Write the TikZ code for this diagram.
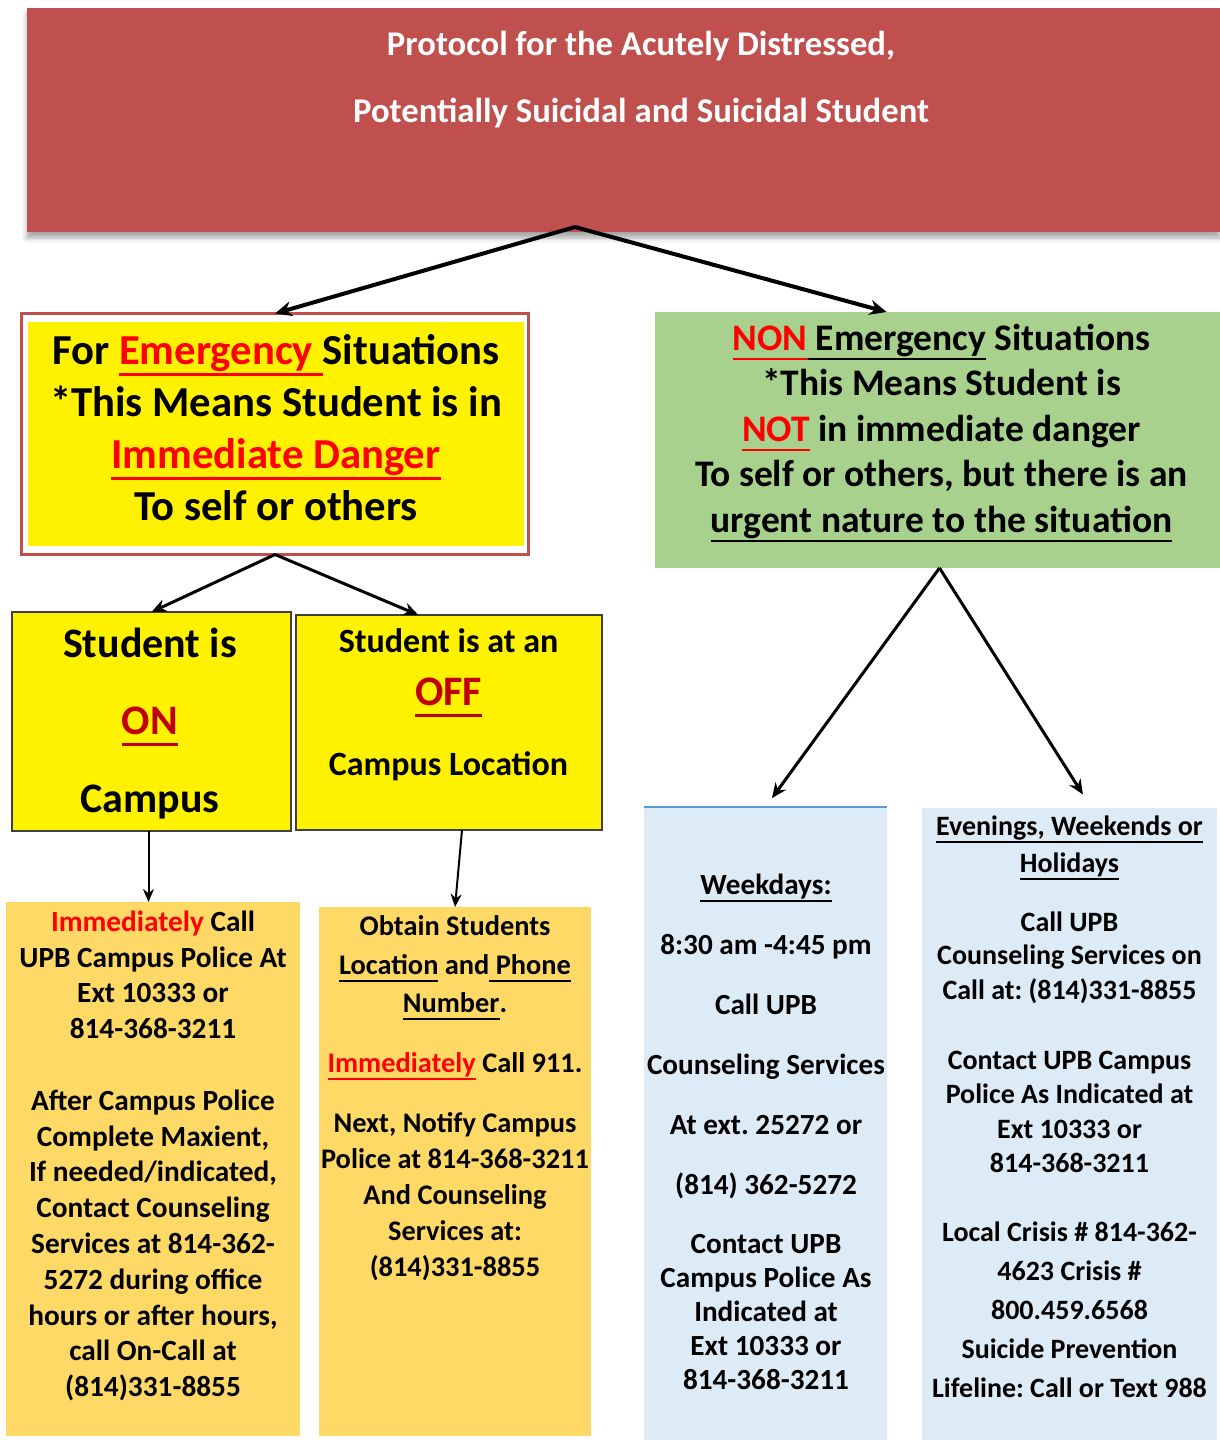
\documentclass[tikz,border=0pt]{standalone}
\usepackage{fontspec}
\setmainfont{Carlito}
\usepackage{xcolor}
\usetikzlibrary{arrows.meta,calc,shadows.blur}
\definecolor{protored}{HTML}{C0504D}
\definecolor{alertred}{HTML}{FF0000}
\definecolor{darkred}{HTML}{C00000}
\definecolor{nongreen}{HTML}{A9D18E}
\definecolor{callorange}{HTML}{FFD966}
\definecolor{dayblue}{HTML}{DDEBF7}
\definecolor{edgeblue}{HTML}{5B9BD5}
\newcommand{\fsz}[2]{\fontsize{#1}{#2}\selectfont\bfseries\frenchspacing}
\newcommand{\undl}[1]{\leavevmode\setbox0\hbox{#1}\rlap{\vrule width\wd0 height -0.2em depth 0.27em}\box0\relax}

\begin{document}
\begin{tikzpicture}[x=1pt,y=-1pt,
  box/.style={anchor=north west,inner sep=0pt,outer sep=0pt},
  txt/.style={anchor=north,inner sep=0pt,align=center},
  yellowbox/.style={box,fill=yellow,draw=black!75,line width=1.2pt},
  bigarrow/.style={line width=4pt,-{Stealth[length=17pt,width=15pt]}},
  midarrow/.style={line width=3pt,-{Stealth[length=15pt,width=13pt]}},
  thinarrow/.style={line width=2pt,-{Stealth[length=13pt,width=11pt]}}]
\useasboundingbox (0,0) rectangle (1220,1440);

\node[box,fill=protored,minimum width=1193pt,minimum height=224pt,
  blur shadow={shadow xshift=0pt,shadow yshift=-6pt,shadow blur radius=5pt,shadow opacity=35}] (title) at (27,8) {};
\node[box,fill=white,draw=protored,line width=3pt,minimum width=507pt,minimum height=241pt] (emerg) at (21.5,313.5) {};
\fill[yellow] ([shift={(6.5pt,-8.5pt)}]emerg.north west) rectangle ([shift={(-5pt,8.5pt)}]emerg.south east);
\node[box,fill=nongreen,minimum width=565pt,minimum height=256pt] (nonemerg) at (655,312) {};
\node[yellowbox,minimum width=279pt,minimum height=219pt] (onbox) at (12,612) {};
\node[yellowbox,minimum width=306pt,minimum height=215pt] (offbox) at (296,615) {};
\node[box,fill=callorange,minimum width=294pt,minimum height=534pt] (callbox) at (6,902) {};
\node[box,fill=callorange,minimum width=272pt,minimum height=529pt] (obtainbox) at (319,907) {};
\node[box,fill=dayblue,minimum width=243pt,minimum height=633pt] (weekbox) at (644,807) {};
\draw[edgeblue,line width=1.5pt] (weekbox.north west) -- (weekbox.north east);
\node[box,fill=dayblue,minimum width=295pt,minimum height=632pt] (evebox) at (922,808) {};

\node[txt,text=white,font=\fsz{34.7}{67}] (titletext) at (641,8.2) {\strut Protocol for the Acutely Distressed,\\Potentially Suicidal and Suicidal Student};
\node[txt,font=\fsz{42.7}{52}] (emergtext) at (276,328) {\strut For \textcolor{alertred}{\undl{Emergency\ }}Situations\\{}*This Means Student is in\\\textcolor{alertred}{\undl{Immediate Danger}}\\To self or others};
\node[txt,font=\fsz{37.5}{45.5}] (nonemergtext) at (941.5,318) {\strut\textcolor{alertred}{\undl{NON}}\undl{ Emergency} Situations\\{}*This Means Student is\\\textcolor{alertred}{\undl{NOT}} in immediate danger\\To self or others, but there is an\\\undl{urgent nature to the situation}};
\node[txt,font=\fsz{42}{77.5}] (ontext) at (150,603) {\strut Student is\\\textcolor{darkred}{\undl{ON}}\\Campus};
\node[txt,font=\fsz{34}{53.5}] (offtext) at (448.5,614.5) {\strut Student is at an\\{\fontsize{42}{53.5}\selectfont\textcolor{darkred}{\undl{OFF}}}\\[16pt]Campus Location};
\node[txt,font=\fsz{29.3}{35.8}] (calltext) at (153,906) {\strut\textcolor{alertred}{Immediately} Call\\UPB Campus Police At\\Ext 10333 or\\814-368-3211\\[35.8pt]After Campus Police\\Complete Maxient,\\If needed/indicated,\\Contact Counseling\\Services at 814-362-\\5272 during office\\hours or after hours,\\call On-Call at\\(814)331-8855};
\node[txt,font=\fsz{28.4}{36}] (obtaintext) at (455,910) {\strut Obtain Students\\[3pt]\undl{Location} and\undl{ Phone}\\[2pt]\undl{Number}.\\[24pt]\textcolor{alertred}{\undl{Immediately}} Call 911.\\[24pt]Next, Notify Campus\\Police at 814-368-3211\\And Counseling\\Services at:\\(814)331-8855};
\node[txt,font=\fsz{29.2}{34.2}] (weektext) at (766,870) {\strut\undl{Weekdays:}\\[25.8pt]8:30 am -4:45 pm\\[25.8pt]Call UPB\\[25.8pt]Counseling Services\\[25.8pt]At ext. 25272 or\\[25.8pt](814) 362-5272\\[24.8pt]Contact UPB\\Campus Police As\\Indicated at\\Ext 10333 or\\814-368-3211};
\node[txt,font=\fsz{28}{34.5}] (evetext) at (1069.5,811) {\strut\undl{Evenings, Weekends or}\\[2.5pt]\undl{Holidays}\\[24.5pt]Call UPB\\[-1.5pt]Counseling Services on\\[0.5pt]Call at: (814)331-8855\\[35.5pt]Contact UPB Campus\\Police As Indicated at\\Ext 10333 or\\814-368-3211\\[34.5pt]Local Crisis \# 814-362-\\[4.5pt]4623 Crisis \#\\[4.5pt]800.459.6568\\[4.5pt]Suicide Prevention\\[4.5pt]Lifeline: Call or Text 988};

\coordinate (titletip) at ([xshift=-48.5pt,yshift=5pt]title.south);
\draw[bigarrow] (titletip) -- (emerg.north);
\draw[bigarrow] (titletip) -- ($(nonemerg.north west)!0.41!(nonemerg.north east)$);
\draw[midarrow] (emerg.south) -- (onbox.north);
\draw[midarrow] (emerg.south) -- ($(offbox.north west)!0.4!(offbox.north east)$);
\draw[thinarrow] ([xshift=-3pt]onbox.south) -- ([xshift=-3pt]onbox.south |- callbox.north);
\draw[thinarrow] ([xshift=13pt]offbox.south) -- (obtainbox.north);
\draw[midarrow,shorten >=11pt] ([xshift=2pt]nonemerg.south) -- (weekbox.north);
\draw[midarrow,shorten >=16pt] ([xshift=2pt]nonemerg.south) -- ([xshift=22pt]evebox.north);
\end{tikzpicture}
\end{document}
